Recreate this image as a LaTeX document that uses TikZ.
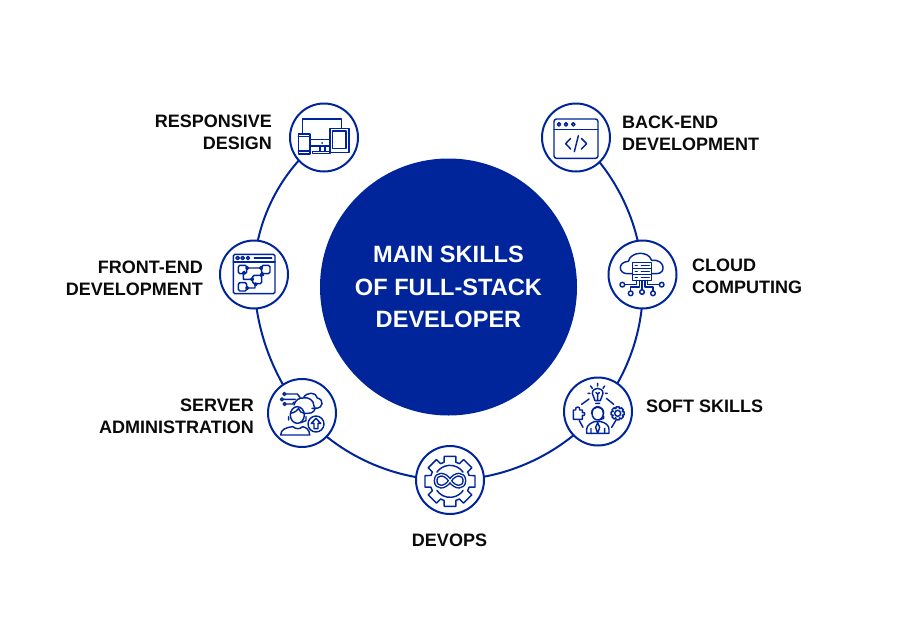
\documentclass[tikz,border=0pt]{standalone}
\usepackage{fontspec}
\usetikzlibrary{backgrounds}
\setmainfont{Liberation Sans}
\definecolor{brand}{HTML}{00259B}
\definecolor{ink}{HTML}{0A0A0A}
\tikzset{
  skillnode/.style={circle,draw=brand,fill=white,line width=2pt,minimum size=68pt,inner sep=0pt},
  ringline/.style={draw=brand,line width=2pt,looseness=.88},
  skilltext/.style={text=ink,font=\fontsize{18}{22}\selectfont\bfseries,inner sep=0pt},
  icon/.style={draw=brand,line width=1.45pt,line join=round,line cap=round},
  iconzoom/.style={x=.33333pt,y=-.33333pt}
}
\begin{document}
\begin{tikzpicture}[x=1pt,y=-1pt]
\useasboundingbox (0,0) rectangle (897,632);
\node[circle,fill=brand,minimum size=257pt,inner sep=0pt,text=white,align=center,font=\fontsize{23.6}{32.5}\selectfont\bfseries] (hub) at (448.5,287) {MAIN SKILLS\\OF FULL-STACK\\DEVELOPER};
\node[skillnode] (resp) at (324,137.5) {};
\node[skillnode] (back) at (576,137.5) {};
\node[skillnode] (front) at (254,274.5) {};
\node[skillnode] (cloud) at (642.5,274.5) {};
\node[skillnode] (server) at (302,413) {};
\node[skillnode] (soft) at (598,411.5) {};
\node[skillnode] (devops) at (450,480) {};
\begin{pgfonlayer}{background}
\fill[white] (0,0) rectangle (897,632);
\draw[ringline] (back.center) to[bend left=22.9] (cloud.center);
\draw[ringline] (cloud.center) to[bend left=21.7] (soft.center);
\draw[ringline] (soft.center) to[bend left=24.5] (devops.center);
\draw[ringline] (devops.center) to[bend left=24.7] (server.center);
\draw[ringline] (server.center) to[bend left=19] (front.center);
\draw[ringline] (front.center) to[bend left=26.6] (resp.center);
\end{pgfonlayer}
\node[skilltext,anchor=east,align=right] (lresp) at (272,132.7) {RESPONSIVE\\DESIGN};
\node[skilltext,anchor=west,align=left] (lback) at (622,133.2) {BACK-END\\DEVELOPMENT};
\node[skilltext,anchor=east,align=right] (lfront) at (203,278.7) {FRONT-END\\DEVELOPMENT};
\node[skilltext,anchor=west,align=left] (lcloud) at (692,276.2) {CLOUD\\COMPUTING};
\node[skilltext,anchor=east,align=right] (lserver) at (254,416.7) {SERVER\\ADMINISTRATION};
\node[skilltext,anchor=west] (lsoft) at (646,406) {SOFT SKILLS};
\node[skilltext] (ldevops) at (449.5,540) {DEVOPS};
% responsive
\begin{scope}[shift={(280,95)},iconzoom]
\draw[icon] (68,117)--(68,72)--(185,72)--(185,98);
\draw[icon] (90,133)--(150,133) (90,153)--(150,153);
\draw[icon] (55,117) rectangle (90,177) (55,125)--(90,125) (55,168)--(90,168);
\draw[icon] (150,100) rectangle (207,173) (158,108) rectangle (198,160);
\draw[icon] (120,153)--(120,168) (135,153)--(135,168) (98,170) rectangle (150,176);
\fill[brand] (126,144) circle[radius=3];
\end{scope}
% back-end
\begin{scope}[shift={(530,95)},iconzoom]
\draw[icon,rounded corners=2.5pt] (72,72) rectangle (204,190);
\draw[icon] (72,103)--(204,103);
\foreach \c in {87,108,130} \draw[icon] (\c,88) circle[radius=5];
\draw[icon] (122,130)--(107,146)--(122,162) (154,130)--(170,146)--(154,162) (145,122)--(133,170);
\end{scope}
% front-end
\begin{scope}[shift={(210,232)},iconzoom]
\draw[icon,rounded corners=1.5pt] (70,67) rectangle (195,185);
\draw[icon] (70,90)--(195,90) (133,78)--(185,78);
\foreach \c in {83,98,114} \draw[icon] (\c,78) circle[radius=5];
\draw[icon,rounded corners=1.5pt] (85,100) rectangle (110,125) (155,100) rectangle (180,125) (128,130) rectangle (155,155) (85,152) rectangle (110,177);
\draw[icon] (115,108)--(150,108) (100,125)--(100,142)--(128,142) (155,125)--(160,130) (110,168)--(135,168)--(135,155);
\foreach \p in {(112,108),(153,108),(102,122),(126,142),(155,128),(112,168),(137,157)} \draw[icon,fill=white] \p circle[radius=4];
\end{scope}
% cloud
\begin{scope}[shift={(600,232)},iconzoom]
\draw[icon] (97,125)--(82,125) .. controls (55,125) and (52,90) .. (85,88) .. controls (92,58) and (145,55) .. (155,85) .. controls (195,80) and (200,125) .. (170,125)--(155,125);
\draw[icon] (97,92) rectangle (155,110) (97,110) rectangle (155,128) (97,128) rectangle (155,146);
\foreach \y in {101,119,137} \draw[icon] (124,\y)--(148,\y) (106,\y)--(112,\y);
\draw[icon] (110,146)--(110,158)--(75,158) (118,146)--(118,165)--(92,165)--(92,176) (126,146)--(126,172) (135,146)--(135,165)--(159,165)--(159,176) (143,146)--(143,158)--(178,158);
\foreach \p in {(67,158),(92,184),(126,180),(159,184),(185,158)} \draw[icon] \p circle[radius=7];
\end{scope}
% server
\begin{scope}[shift={(258,370)},iconzoom]
\draw[icon] (108,105) .. controls (112,90) and (125,82) .. (136,84) .. controls (145,65) and (175,65) .. (178,84) .. controls (198,88) and (198,115) .. (172,115)--(162,115) (136,84) .. controls (150,80) and (168,90) .. (168,108) .. controls (178,115) and (165,132) .. (150,130)--(138,130);
\draw[icon] (118,135) ellipse[x radius=21,y radius=25];
\draw[icon] (97,130) .. controls (110,128) and (118,122) .. (122,115) .. controls (125,125) and (132,130) .. (139,130);
\draw[icon] (92,140) -- (92,150) (144,140) -- (144,152) -- (128,158);
\draw[icon] (68,195) .. controls (68,178) and (85,172) .. (104,170) .. controls (115,178) and (125,178) .. (134,170) .. controls (145,172) and (155,180) .. (155,195)--cycle;
\draw[icon] (85,72)--(118,72)--(126,82) (79,88)--(112,88) (86,102)--(104,102)--(108,96);
\foreach \p in {(79,72),(72,88),(80,102)} \draw[icon] \p circle[radius=4.5];
\draw[icon,fill=white] (174,162) circle[radius=24];
\draw[icon] (174,145)--(188,160)--(180,160)--(180,176)--(168,176)--(168,160)--(160,160)--cycle;
\end{scope}
% soft
\begin{scope}[shift={(555,370)},iconzoom]
\draw[icon] (120,92) .. controls (120,82) and (112,80) .. (112,70) .. controls (112,50) and (144,50) .. (144,70) .. controls (144,80) and (136,82) .. (136,92)--cycle (122,100)--(134,100) (128,92)--(128,72) (123,68)--(128,72)--(133,68);
\draw[icon] (128,40)--(128,48) (107,48)--(112,55) (149,48)--(144,55) (99,70)--(105,70) (151,70)--(157,70);
\draw[icon] (102,87)--(80,103) (154,85)--(176,103) (73,152)--(84,172) (182,152)--(170,172);
\draw[icon] (55,120)--(62,120) .. controls (58,108) and (78,108) .. (74,120) -- (82,120)--(82,128) .. controls (92,124) and (92,140) .. (82,136)--(82,148)--(55,148)--cycle;
\draw[icon] (128,130) ellipse[x radius=17,y radius=20];
\draw[icon] (110,130) .. controls (110,105) and (146,105) .. (146,130)  (146,138)--(146,145)--(132,150);
\draw[icon] (95,190)--(95,178) .. controls (95,165) and (110,158) .. (118,155)--(138,155) .. controls (150,158) and (162,165) .. (162,178)--(162,190)--cycle;
\draw[icon] (128,158)--(122,172)--(128,190)--(134,172)--cycle (108,175)--(108,190) (149,175)--(149,190);
\begin{scope}[shift={(188,130)}]
\draw[icon] (90-13:20) foreach \a in {0,45,...,315}{ -- (\a+90-13:20) -- (\a+90+13:20) -- (\a+90+20:15) -- (\a+90+25:15)} -- cycle;
\draw[icon] (0,0) circle[radius=9];
\end{scope}
\end{scope}
% devops
\begin{scope}[shift={(405,438)},iconzoom]
\begin{scope}[shift={(135,130)}]
\draw[icon] (90-13:77) foreach \a in {0,45,...,315}{ -- (\a+90-13:77) -- (\a+90+13:77) -- (\a+90+17:60) -- (\a+90+28:60)} -- cycle;
\draw[icon] (145:48) arc[start angle=145,end angle=35,radius=48] (-35:48) arc[start angle=-35,end angle=-145,radius=48];
\end{scope}
\draw[icon,double=white,double distance=1.1pt] (135,128) .. controls (120,104) and (92,104) .. (92,128) .. controls (92,152) and (120,152) .. (135,128) .. controls (150,104) and (178,104) .. (178,128) .. controls (178,152) and (150,152) .. (135,128);
\end{scope}
\end{tikzpicture}
\end{document}
